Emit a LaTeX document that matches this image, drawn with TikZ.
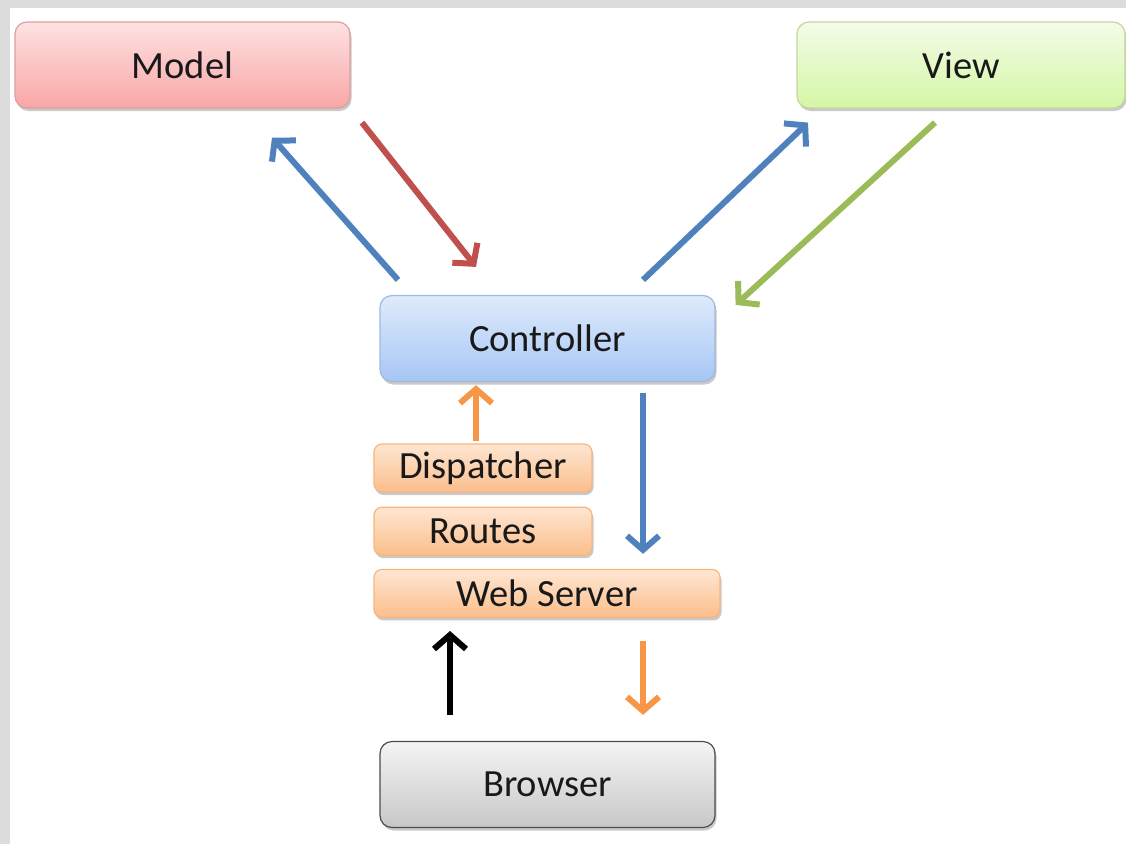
\documentclass[tikz,border=0pt]{standalone}
\usepackage{fontspec}
\setmainfont{Carlito}
\usepackage{xcolor}
\usepackage{tikz}
\usetikzlibrary{arrows.meta,positioning,shadows}

\definecolor{mvcblue}{HTML}{4F81BD}
\definecolor{mvcred}{HTML}{C0504D}
\definecolor{mvcgreen}{HTML}{9BBB59}
\definecolor{mvcorange}{HTML}{F79646}
\definecolor{framegray}{HTML}{DCDCDC}
\definecolor{modeltop}{HTML}{FFE2E2}
\definecolor{modelbot}{HTML}{F8A6A6}
\definecolor{viewtop}{HTML}{F3FCE8}
\definecolor{viewbot}{HTML}{D5F6A6}
\definecolor{ctrltop}{HTML}{DFEBFC}
\definecolor{ctrlbot}{HTML}{A6C6F4}
\definecolor{layertop}{HTML}{FEE6D2}
\definecolor{layerbot}{HTML}{FBBE8C}

\begin{document}
\begin{tikzpicture}[
  x=1pt, y=-1pt,
  box/.style={rounded corners=12pt, minimum width=335pt, minimum height=86pt, align=center,
    font=\fontsize{38.5}{46}\selectfont, text=black!90, line width=1.2pt,
    drop shadow={shadow xshift=1.5pt, shadow yshift=-3pt, opacity=0.35, fill=black!60}},
  layer/.style={box, rounded corners=8pt, minimum width=218pt, minimum height=48pt,
    draw=mvcorange!70, top color=layertop, bottom color=layerbot},
  arr/.style={-{Straight Barb[length=14pt, width=32pt, line width=6pt]}, line width=6pt}
]
\useasboundingbox (0,0) rectangle (1126,844);
\fill[white] (0,0) rectangle (1126,844);
\fill[framegray] (0,0) rectangle (1126,8);
\fill[framegray] (0,0) rectangle (10,844);

\node[box, draw=mvcred!55, top color=modeltop, bottom color=modelbot] (model) at (182.5,65) {Model};
\node[box, draw=mvcgreen!60, minimum width=328pt, top color=viewtop, bottom color=viewbot] (view) at (961,65) {View};
\node[box, draw=mvcblue!55, top color=ctrltop, bottom color=ctrlbot] (ctrl) at (547.5,338.5) {Controller};
\node[layer] (disp) at (483,468) {Dispatcher};
\node[layer, below=14pt of disp] (routes) {Routes};
\node[layer, minimum width=346pt, below=13pt of routes.south west, anchor=north west] (web) {Web Server};
\node[box, draw=black!70, top color=black!4, bottom color=black!22] (browser) at (547.5,784.5) {Browser};

\draw[arr, mvcblue] ([shift={(-149.5,-15)}]ctrl.north) -- ([shift={(89.5,29)}]model.south);
\draw[arr, mvcred] ([shift={(179.5,14)}]model.south) -- ([shift={(-71.5,-28)}]ctrl.north);
\draw[arr, mvcblue] ([shift={(95.5,-15)}]ctrl.north) -- ([shift={(-153,14)}]view.south);
\draw[arr, mvcgreen] ([shift={(-26,14)}]view.south) -- ([shift={(20,10)}]ctrl.north east);
\draw[arr, mvcorange] ([shift={(-7,-2)}]disp.north) -- ([shift={(-71.5,3)}]ctrl.south);
\draw[arr, mvcblue] ([shift={(95.5,11)}]ctrl.south) -- ([shift={(96,-15)}]web.north);
\draw[arr, black] ([shift={(-97.5,-26)}]browser.north) -- ([shift={(-97,13)}]web.south);
\draw[arr, mvcorange] ([shift={(96,23)}]web.south) -- ([shift={(95.5,-26)}]browser.north);
\end{tikzpicture}
\end{document}
